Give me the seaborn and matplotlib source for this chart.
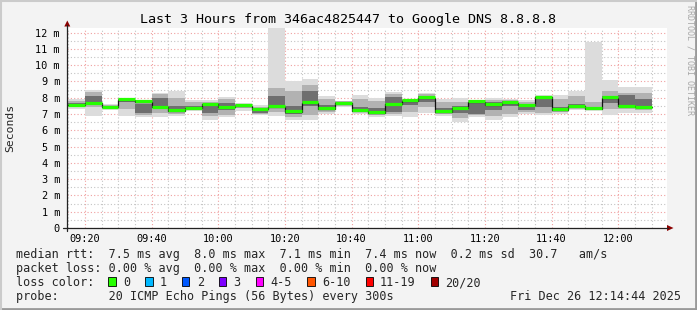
import matplotlib
matplotlib.use("Agg")
import matplotlib.pyplot as plt
import matplotlib.ticker as mticker
from matplotlib.patches import Polygon, Rectangle
from matplotlib.lines import Line2D
import numpy as np
import pandas as pd
import seaborn as sns

# ---------------- data ----------------
interval_end = ["09:20", "09:25", "09:30", "09:35", "09:40", "09:45", "09:50", "09:55",
                "10:00", "10:05", "10:10", "10:15", "10:20", "10:25", "10:30", "10:35",
                "10:40", "10:45", "10:50", "10:55", "11:00", "11:05", "11:10", "11:15",
                "11:20", "11:25", "11:30", "11:35", "11:40", "11:45", "11:50", "11:55",
                "12:00", "12:05", "12:10"]
median_ms = [7.55, 7.65, 7.42, 7.86, 7.74, 7.42, 7.21, 7.36, 7.59, 7.42, 7.52, 7.29,
             7.44, 7.15, 7.68, 7.32, 7.65, 7.19, 7.08, 7.59, 7.80, 8.00, 7.13, 7.34,
             7.74, 7.57, 7.68, 7.55, 8.03, 7.27, 7.48, 7.33, 7.99, 7.48, 7.42]
min_ms = [7.30, 6.85, 7.25, 6.88, 6.79, 6.83, 6.89, 7.20, 6.65, 6.79, 7.20, 6.96,
          6.85, 6.63, 6.65, 7.00, 7.45, 7.00, 6.79, 6.89, 6.79, 7.04, 6.89, 6.52,
          6.83, 6.65, 6.79, 7.00, 6.96, 7.02, 7.24, 7.22, 6.94, 7.04, 7.04]
max_ms = [7.92, 8.48, 7.61, 7.98, 7.86, 8.29, 8.39, 7.88, 7.86, 8.02, 7.65, 7.57,
          12.80, 9.05, 9.12, 8.13, 7.82, 8.17, 7.96, 8.33, 7.92, 8.29, 7.92, 7.96,
          7.86, 7.98, 7.92, 7.88, 8.19, 8.16, 8.43, 11.44, 9.09, 8.64, 8.64]
p20_ms = [7.42, 7.45, 7.33, 7.30, 6.95, 7.05, 7.00, 7.28, 6.85, 6.95, 7.35, 7.02,
          7.10, 6.80, 6.95, 7.15, 7.52, 7.10, 6.95, 7.00, 7.10, 7.40, 7.00, 6.75,
          6.95, 6.90, 7.00, 7.10, 7.05, 7.10, 7.30, 7.28, 7.30, 7.30, 7.25]
p80_ms = [7.82, 8.35, 7.58, 7.96, 7.80, 8.20, 8.00, 7.75, 7.75, 7.95, 7.62, 7.45,
          8.60, 8.40, 8.80, 7.95, 7.78, 7.95, 7.80, 8.20, 7.90, 8.20, 7.75, 7.75,
          7.85, 7.85, 7.85, 7.75, 8.10, 7.90, 8.10, 7.75, 8.40, 8.30, 8.30]
p35_ms = [7.48, 7.60, 7.38, 7.75, 7.05, 7.40, 7.15, 7.33, 7.05, 7.25, 7.45, 7.05,
          7.35, 7.00, 7.50, 7.25, 7.58, 7.15, 7.00, 7.15, 7.55, 7.75, 7.05, 7.05,
          7.00, 7.25, 7.50, 7.25, 7.40, 7.20, 7.40, 7.30, 7.70, 7.55, 7.40]
p65_ms = [7.70, 8.10, 7.50, 7.95, 7.60, 8.00, 7.50, 7.50, 7.55, 7.70, 7.58, 7.35,
          8.10, 7.50, 8.40, 7.55, 7.72, 7.45, 7.35, 8.05, 7.85, 8.10, 7.35, 7.50,
          7.75, 7.75, 7.80, 7.55, 8.05, 7.45, 7.60, 7.45, 8.10, 8.15, 7.90]

x_tick_labels = ["09:20", "09:40", "10:00", "10:20", "10:40", "11:00", "11:20", "11:40", "12:00"]
y_tick_values = [0, 1, 2, 3, 4, 5, 6, 7, 8, 9, 10, 11, 12]

loss_labels = ["0", "1", "2", "3", "4-5", "6-10", "11-19", "20/20"]
loss_colors = ["#26ff00", "#00b8ff", "#0059ff", "#7e00ff", "#ff00ff", "#ff5500", "#ff0000", "#a10000"]

title = "Last 3 Hours from 346ac4825447 to Google DNS 8.8.8.8"
legend_lines = [
    "median rtt:  7.5 ms avg  8.0 ms max  7.1 ms min  7.4 ms now  0.2 ms sd  30.7   am/s",
    "packet loss: 0.00 % avg  0.00 % max  0.00 % min  0.00 % now",
]
probe_text = "probe:       20 ICMP Echo Pings (56 Bytes) every 300s"
stamp_text = "Fri Dec 26 12:14:44 2025"
watermark = "RRDTOOL / TOBI OETIKER"

# ---------------- style ----------------
sns.set_style("white")
MONO = ["DejaVu Sans Mono"]
plt.rcParams["font.family"] = MONO

W, H = 697, 310
fig = plt.figure(figsize=(W / 100, H / 100), dpi=100, facecolor="#f3f3f3")


def fx(x):
    return x / W


def fy(y):
    return 1 - y / H


def to_min(s):
    h, m = s.split(":")
    return int(h) * 60 + int(m)


df = pd.DataFrame({
    "end": [to_min(s) for s in interval_end],
    "median": median_ms, "lo": min_ms, "hi": max_ms,
    "q_lo": p20_ms, "q_hi": p80_ms, "c_lo": p35_ms, "c_hi": p65_ms,
})
df["start"] = df["end"] - 5

t_end = to_min("12:14") + 44 / 60
t_start = t_end - 180

ax = fig.add_axes([fx(67.3), fy(228), 600 / W, 200.5 / H])
ax.set_facecolor("white")
ax.set_xlim(t_start, t_end)
ax.set_ylim(0, 12.31)

# smoke layers
for lo, hi, col in (("lo", "hi", "#dcdcdc"), ("q_lo", "q_hi", "#b2b2b2"), ("c_lo", "c_hi", "#6f6f6f")):
    ax.bar(df["start"], df[hi] - df[lo], bottom=df[lo], width=5, align="edge",
           color=col, linewidth=0, antialiased=False, zorder=2)

# median: black step line + green segments
step_x = list(df["start"]) + [df["end"].iloc[-1]]
step_y = list(df["median"]) + [df["median"].iloc[-1]]
sns.lineplot(x=step_x, y=step_y, drawstyle="steps-post", color="#111111", lw=0.9,
             estimator=None, sort=False, ax=ax, zorder=3)
ax.hlines(df["median"] + 0.03, df["start"], df["end"], colors=loss_colors[0], lw=2.3, zorder=4)

# grid & ticks
ax.xaxis.set_major_locator(mticker.FixedLocator([to_min(s) for s in x_tick_labels]))
ax.xaxis.set_major_formatter(mticker.FixedFormatter(x_tick_labels))
ax.xaxis.set_minor_locator(mticker.MultipleLocator(5))
ax.yaxis.set_major_locator(mticker.FixedLocator(y_tick_values))
ax.yaxis.set_major_formatter(mticker.FixedFormatter(["0" if v == 0 else f"{v} m" for v in y_tick_values]))
ax.yaxis.set_minor_locator(mticker.MultipleLocator(0.5))
ax.set_axisbelow(True)
ax.grid(which="major", color="#f0a0a0", linestyle=(0, (1, 2)), lw=0.8)
ax.grid(which="minor", color="#c4c4c4", linestyle=(0, (1, 2)), lw=0.8)
ax.tick_params(which="major", length=2, width=0.8, color="#e08080", labelsize=7.4,
               labelcolor="#000000", direction="out")
ax.tick_params(which="minor", length=1.5, width=0.6, color="#b0b0b0", direction="out")
ax.tick_params(axis="x", which="major", pad=2.6)
ax.tick_params(axis="y", which="major", pad=3.3)
ax.set_xlabel("")
ax.set_ylabel("")
for s in ax.spines.values():
    s.set_visible(False)

# axis lines with arrows (figure pixel coords)
fig.add_artist(Line2D([fx(63), fx(668)], [fy(228), fy(228)], color="#222222", lw=0.9))
fig.add_artist(Line2D([fx(67.3), fx(67.3)], [fy(231), fy(25)], color="#222222", lw=0.9))
fig.add_artist(Polygon([(fx(64.3), fy(26.5)), (fx(70.3), fy(26.5)), (fx(67.3), fy(20.5))],
                       closed=True, color="#8b0000", lw=0))
fig.add_artist(Polygon([(fx(667), fy(225)), (fx(667), fy(231)), (fx(673.5), fy(228))],
                       closed=True, color="#8b0000", lw=0))

# texts
fig.text(fx(348.5), fy(23.5), title, ha="center", va="baseline", fontsize=9.6, color="#000000")
fig.text(fx(10.5), fy(127.5), "Seconds", rotation=90, ha="center", va="center", fontsize=8.2)
fig.text(fx(690), fy(5), watermark, rotation=270, ha="center", va="top", fontsize=6.0, color="#a8a8a8")

FS = 8.47
fig.text(fx(15.5), fy(258), legend_lines[0], ha="left", va="baseline", fontsize=FS)
fig.text(fx(15.5), fy(272), legend_lines[1], ha="left", va="baseline", fontsize=FS)
fig.text(fx(15.5), fy(286), "loss color:", ha="left", va="baseline", fontsize=FS)
fig.text(fx(15.5), fy(300), probe_text, ha="left", va="baseline", fontsize=FS)
fig.text(fx(680.5), fy(300), stamp_text, ha="right", va="baseline", fontsize=FS)

sq_x = [108.3, 145.3, 182.0, 219.0, 256.0, 307.3, 365.7, 431.0]
lab_x = [123.3, 160.0, 196.7, 233.3, 270.7, 322.0, 380.0, 445.0]
for sx, lx, lab, col in zip(sq_x, lab_x, loss_labels, loss_colors):
    fig.add_artist(Rectangle((fx(sx), fy(286)), 7.4 / W, 8.6 / H, facecolor=col,
                             edgecolor="#000000", lw=0.6))
    fig.text(fx(lx), fy(286), lab, ha="left", va="baseline", fontsize=FS)

# frame
fig.add_artist(Line2D([0, 1], [fy(309), fy(309)], color="#999999", lw=2.0))
fig.add_artist(Line2D([fx(696), fx(696)], [0, 1], color="#999999", lw=2.0))
fig.add_artist(Line2D([0, 1], [fy(0.8), fy(0.8)], color="#cbcbcb", lw=1.5))
fig.add_artist(Line2D([fx(0.8), fx(0.8)], [0, 1], color="#cbcbcb", lw=1.5))

fig.savefig("out.png", dpi=100, facecolor=fig.get_facecolor())
